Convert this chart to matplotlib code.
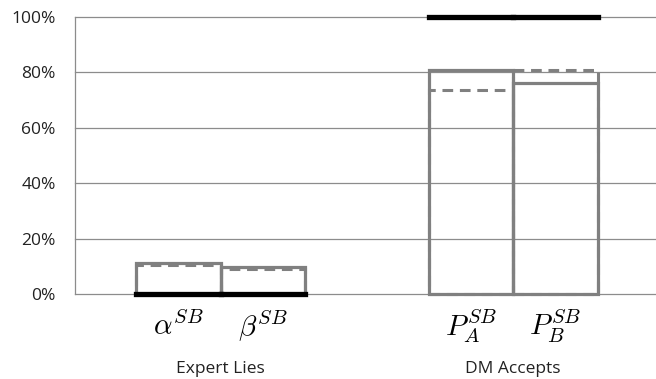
import matplotlib
matplotlib.use('Agg')
import matplotlib.pyplot as plt
import numpy as np

plt.rcParams['mathtext.fontset'] = 'cm'

# bar labels and values (fractions of 1)
labels = [r'$\alpha^{SB}$', r'$\beta^{SB}$', r'$P_A^{SB}$', r'$P_B^{SB}$']
positions = [1.225, 2.225, 4.683, 5.683]
solid_vals = [0.111, 0.099, 0.809, 0.761]
dashed_vals = [0.105, 0.089, 0.735, 0.808]
black_vals = [0.0, 0.0, 1.0, 1.0]
groups = ['Expert Lies', 'DM Accepts']
group_pos = [1.725, 5.183]
yticks = [0, 0.2, 0.4, 0.6, 0.8, 1.0]

GRAY = '#808080'

fig = plt.figure(figsize=(6.56, 3.79), dpi=100)
ax = fig.add_axes([75 / 656, 85 / 379, 580 / 656, 277 / 379])
ax.set_xlim(0, 6.86)
ax.set_ylim(0, 1.0)

for y in yticks:
    ax.axhline(y, color='#8c8c8c', lw=0.9, zorder=0, clip_on=False)

ax.bar(positions, solid_vals, width=1.0, fill=False, edgecolor=GRAY,
       linewidth=2.3, zorder=2, clip_on=False)
ax.bar(positions, dashed_vals, width=1.0, fill=False, edgecolor=GRAY,
       linewidth=2.2, linestyle=(0, (3.5, 2.2)), zorder=3, clip_on=False)
blk = ax.hlines(black_vals, np.array(positions) - 0.5, np.array(positions) + 0.5,
                colors='black', linewidth=3.8, zorder=4, clip_on=False)
blk.set_capstyle('projecting')

for s in ['top', 'right', 'bottom']:
    ax.spines[s].set_visible(False)
ax.spines['left'].set_color('#8c8c8c')
ax.spines['left'].set_linewidth(0.9)

ax.set_yticks(yticks)
ax.set_yticklabels([f'{int(round(v * 100))}%' for v in yticks],
                   fontsize=12.5, family='Open Sans', color='#222222')
ax.tick_params(axis='y', length=0, pad=14)
ax.set_xticks([])

for x, lab in zip(positions, labels):
    ax.text(x, -0.115, lab, transform=ax.get_xaxis_transform(),
            ha='center', va='center', fontsize=21)
for x, g in zip(group_pos, groups):
    ax.text(x, -0.27, g, transform=ax.get_xaxis_transform(),
            ha='center', va='center', fontsize=12.5, family='Open Sans', color='#222222')

plt.savefig('out.png', dpi=100, facecolor='white')
